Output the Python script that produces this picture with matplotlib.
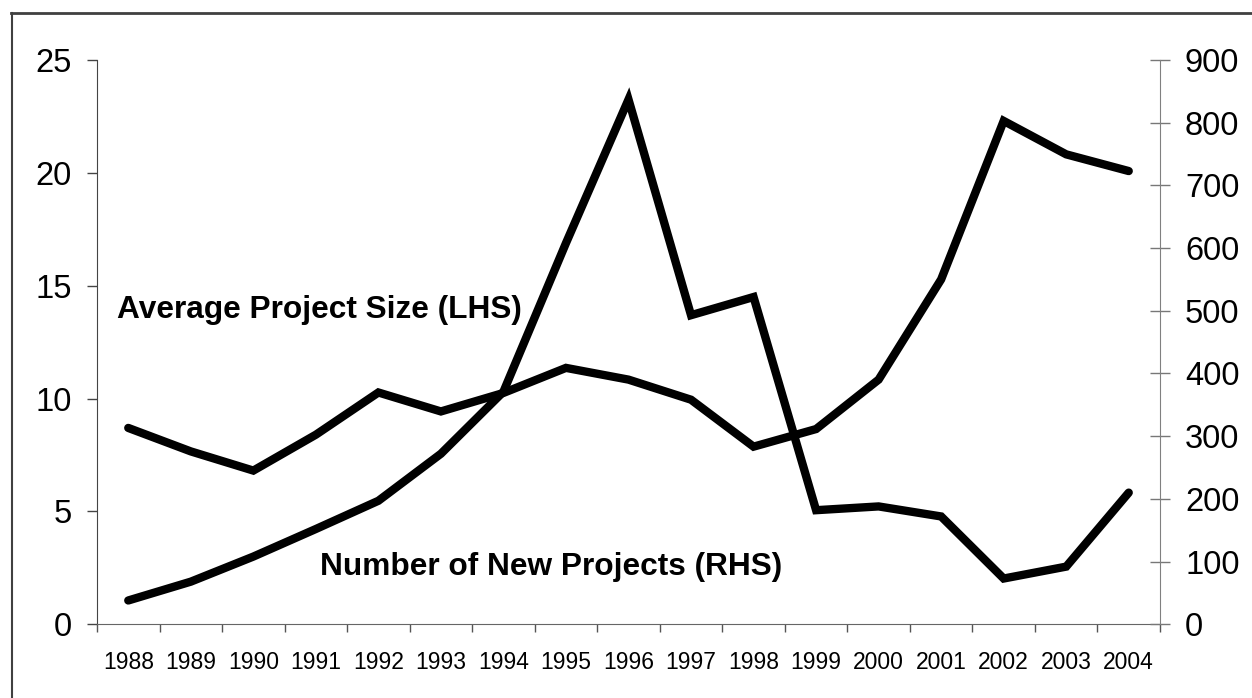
import matplotlib.pyplot as plt
from matplotlib.lines import Line2D

plt.rcParams['font.family'] = ['Liberation Sans', 'DejaVu Sans']

# --- data ---
years = [str(y) for y in range(1988, 2005)]
avg_size = [8.70, 7.66, 6.81, 8.40, 10.27, 9.43, 10.25, 11.36, 10.84,
            9.95, 7.87, 8.65, 10.84, 15.28, 22.30, 20.82, 20.08]      # LHS
new_projects = [38, 68, 108, 152, 197, 272, 371, 608, 837,
                493, 522, 182, 188, 172, 73, 92, 210]                # RHS

x = list(range(len(years)))

fig = plt.figure(figsize=(12.52, 6.98), dpi=100)
ax = fig.add_axes([97 / 1252, 1 - 624.3 / 698, 1063 / 1252, 564.3 / 698])
ax2 = ax.twinx()

# outer frame (only top and left are inside the picture)
fig.add_artist(Line2D([11 / 1252, 1.0], [1 - 13 / 698, 1 - 13 / 698],
                      color='#404040', lw=2))
fig.add_artist(Line2D([11.5 / 1252, 11.5 / 1252], [0, 1 - 13 / 698],
                      color='#404040', lw=1.5))

ax.plot(x, avg_size, color='black', lw=6, solid_capstyle='round',
        solid_joinstyle='miter', zorder=3)
ax2.plot(x, new_projects, color='black', lw=6, solid_capstyle='round',
         solid_joinstyle='miter', zorder=3)

ax.set_xlim(-0.5, len(years) - 0.5)
ax.set_ylim(0, 25)
ax2.set_ylim(0, 900)
ax.set_yticks(range(0, 26, 5))
ax2.set_yticks(range(0, 901, 100))

ax.set_xticks(x)
ax.set_xticklabels(years, fontsize=16.5)
ax.set_xticks([i - 0.5 for i in range(len(years) + 1)], minor=True)
ax.tick_params(axis='x', which='major', length=0, pad=19)
ax.tick_params(axis='x', which='minor', direction='out', length=6,
               width=1, color='#555555')
ax.tick_params(axis='y', direction='out', length=7, width=1,
               color='#444444', labelsize=23.5, pad=11)
ax2.tick_params(axis='y', direction='inout', length=14, width=1,
                color='#777777', labelsize=23.5, pad=11)

for a in (ax, ax2):
    a.spines['top'].set_visible(False)
    a.spines['left'].set_color('#444444')
    a.spines['right'].set_color('#808080')
    a.spines['bottom'].set_color('#666666')
ax2.spines['left'].set_visible(False)
ax2.spines['bottom'].set_visible(False)
ax.spines['right'].set_visible(False)

ax.text(0.0188, 0.557, 'Average Project Size (LHS)', transform=ax.transAxes,
        fontsize=22.8, fontweight='bold', ha='left', va='center')
ax.text(0.2098, 0.1015, 'Number of New Projects (RHS)', transform=ax.transAxes,
        fontsize=22.8, fontweight='bold', ha='left', va='center')

fig.savefig('out.png', dpi=100)
